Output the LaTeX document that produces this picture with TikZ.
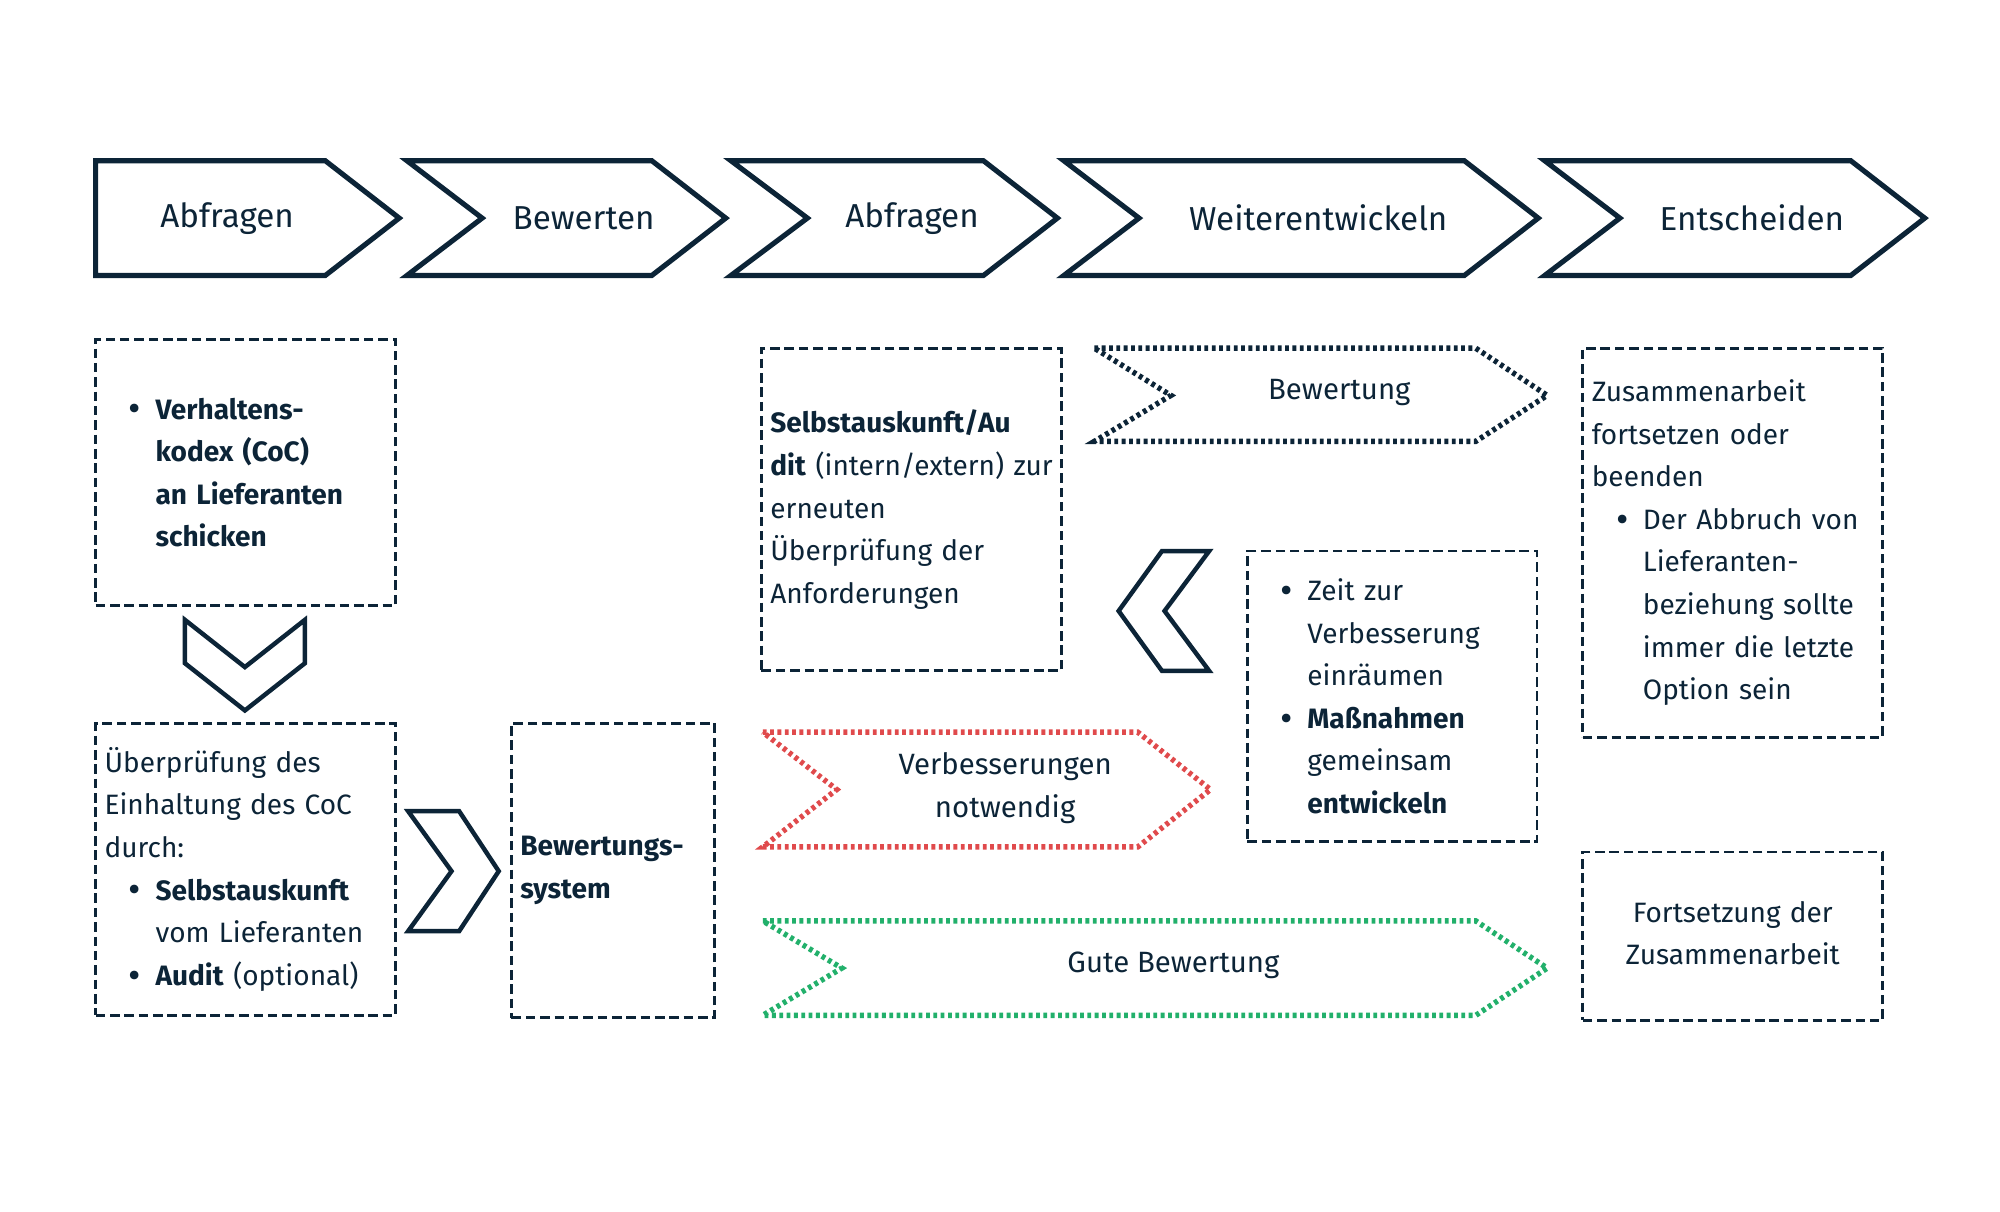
\documentclass[tikz,border=0pt]{standalone}
\usepackage{fontspec}
\setmainfont{Fira Sans}
\usetikzlibrary{positioning}

\definecolor{navy}{HTML}{0C2437}
\definecolor{dotred}{HTML}{E04A4C}
\definecolor{dotgreen}{HTML}{22B06B}

\newcommand{\bodyfont}{\fontsize{12.5}{19}\selectfont}
\newlength{\bulpre}\setlength{\bulpre}{3.8mm}
\newlength{\bulgap}\setlength{\bulgap}{4.2mm}
\newcommand{\bigbul}{\raisebox{-0.1em}{\fontsize{17}{0}\selectfont\textbullet}}
\newcommand{\itm}[1]{\noindent\hangindent=\dimexpr\bulpre+\bulgap\relax\hangafter=1
  \hspace*{\bulpre}\makebox[\bulgap][l]{\bigbul}#1\par}

\begin{document}
\begin{tikzpicture}[x=0.2mm,y=-0.2mm,line join=miter,
  chev/.style={draw=navy,line width=0.8mm},
  phase/.style={text=navy,font=\fontsize{14.8}{17}\selectfont},
  dbox/.style={draw=navy,line width=0.45mm,dash pattern=on 1.5mm off 0.75mm,
    inner xsep=1.4mm,inner ysep=0pt,align=left,text=navy,font=\bodyfont},
  dotchev/.style={line width=0.85mm,dash pattern=on 0.6mm off 0.55mm},
  lbl/.style={text=navy,font=\fontsize{13.1}{19}\selectfont,align=center}]
  \useasboundingbox (0,0) rectangle (1568,950);

  \foreach \a/\b/\n/\txt [count=\i] in {75/255/0/Abfragen,319/511/59/Bewerten,
      573/771/60/Abfragen,834/1148/59/Weiterentwickeln,1211/1451/59/Entscheiden} {
    \draw[chev] (\a,126) -- (\b,126) -- (\b+58,171) -- (\b,216) -- (\a,216) -- (\a+\n,171) -- cycle;
    \node[phase] (phase\i) at ({(\a+\n+\b)/2+13},171) {\txt};
  }

  \node[dbox,text width=44.2mm,minimum height=41.8mm] (coc) at (192.5,370.5)
    {\itm{\textbf{Verhaltens-\newline kodex (CoC)\newline an Lieferanten\newline schicken}}};
  \node[dbox,text width=44.2mm,minimum height=45.8mm] (check) at (192.5,681.5)
    {Überprüfung des\\Einhaltung des CoC\\durch:\par
     \itm{\textbf{Selbstauskunft}\newline vom Lieferanten}\itm{\textbf{Audit} (optional)}};
  \node[dbox,text width=29mm,minimum height=46.2mm] (system) at (480.5,682.5)
    {\textbf{Bewertungs-}\\\textbf{system}};
  \node[dbox,text width=44.2mm,minimum height=50.6mm] (audit) at (714.5,399.5)
    {\textbf{Selbstauskunft/Au}\\\mbox{\textbf{dit} (intern/extern) zur}\\erneuten\\Überprüfung der\\Anforderungen};
  \node[dbox,text width=42.6mm,minimum height=45.6mm] (time) at (1091.5,546)
    {\itm{Zeit zur\newline Verbesserung\newline einräumen}\itm{\textbf{Maßnahmen}\newline gemeinsam\newline\textbf{entwickeln}}};
  \node[dbox,text width=44.2mm,minimum height=61mm] (decide) at (1358.5,425.5)
    {Zusammenarbeit\\fortsetzen oder\\beenden\par
     \itm{Der Abbruch von\newline Lieferanten-\newline beziehung sollte\newline immer die letzte\newline Option sein}};
  \node[dbox,text width=44.2mm,minimum height=26.4mm,align=center] (keep) at (1358.5,734)
    {Fortsetzung der\\Zusammenarbeit\vspace*{1mm}};

  \draw[chev,line width=0.7mm] (145,486) -- (192,523) -- (239,486) -- (239,520) -- (192,557) -- (145,520) -- cycle;
  \draw[chev,line width=0.7mm] (320,636) -- (360,636) -- (391,683) -- (360,730) -- (320,730) -- (354,683) -- cycle;
  \draw[chev,line width=0.7mm] (911,432) -- (948,432) -- (913,479) -- (948,526) -- (911,526) -- (877,479) -- cycle;

  \draw[dotchev,navy] (858,273) -- (1157,273) -- (1213,310) -- (1157,346) -- (858,346) -- (918,310) -- cycle;
  \node[lbl] (rating) at (1050,308) {Bewertung};
  \draw[dotchev,dotred] (598,574) -- (892,574) -- (949,619) -- (892,664) -- (598,664) -- (656,619) -- cycle;
  \node[lbl] (improve) at (788,618) {Verbesserungen\\notwendig};
  \draw[dotchev,dotgreen] (598,722) -- (1157,722) -- (1213,759) -- (1157,796) -- (598,796) -- (660,759) -- cycle;
  \node[lbl] (good) at (920,757) {Gute Bewertung};
\end{tikzpicture}
\end{document}
